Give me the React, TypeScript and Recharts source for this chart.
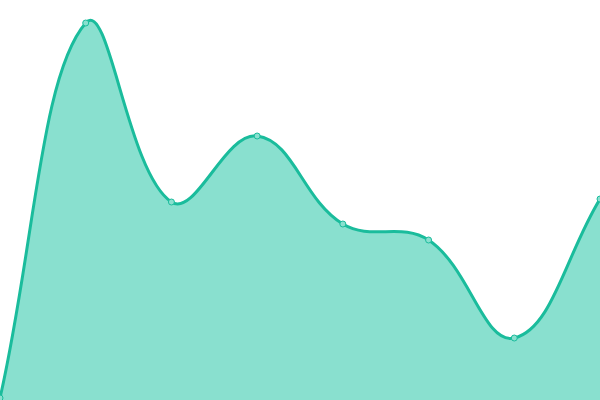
import React from 'react';
import { AreaChart, Area, XAxis, YAxis } from 'recharts';

const LABELS = ['Jan', 'Feb', 'Mar', 'Apr', 'May', 'Jun', 'Jul', 'Aug'];
const VALUES = [2, 377, 198, 264, 176, 160, 62, 201];

const LINE = '#1abc9c';
const FILL = '#89e0cf';

const data = LABELS.map((label, i) => ({ label, value: VALUES[i] }));

// spline like chart.js (tension 0.4), as a d3-style curve factory
const splineCurve = (tension: number) => (ctx: any) => {
  let pts: [number, number][] = [];
  let line = NaN;
  const draw = () => {
    const n = pts.length;
    if (!n) return;
    const cps = pts.map((cur, i) => {
      const prev = pts[i - 1] ?? cur;
      const next = pts[i + 1] ?? cur;
      const d01 = Math.hypot(cur[0] - prev[0], cur[1] - prev[1]);
      const d12 = Math.hypot(next[0] - cur[0], next[1] - cur[1]);
      let s01 = d01 / (d01 + d12);
      let s12 = d12 / (d01 + d12);
      if (isNaN(s01)) s01 = 0;
      if (isNaN(s12)) s12 = 0;
      const fa = tension * s01;
      const fb = tension * s12;
      return {
        a: [cur[0] - fa * (next[0] - prev[0]), cur[1] - fa * (next[1] - prev[1])],
        b: [cur[0] + fb * (next[0] - prev[0]), cur[1] + fb * (next[1] - prev[1])],
      };
    });
    if (line === 1) ctx.lineTo(pts[0][0], pts[0][1]);
    else ctx.moveTo(pts[0][0], pts[0][1]);
    for (let i = 1; i < n; i++) {
      const c1 = cps[i - 1].b;
      const c2 = cps[i].a;
      ctx.bezierCurveTo(c1[0], c1[1], c2[0], c2[1], pts[i][0], pts[i][1]);
    }
  };
  return {
    areaStart() { line = 0; },
    areaEnd() { line = NaN; },
    lineStart() { pts = []; },
    lineEnd() {
      draw();
      if (line === 1) ctx.closePath();
      line = 1 - line;
    },
    point(x: number, y: number) { pts.push([+x, +y]); },
  };
};

const curve = splineCurve(0.4);

export default function App() {
  return (
    <div style={{ position: 'fixed', left: 0, top: 0, width: 600, height: 400, background: '#fff' }}>
      <AreaChart width={600} height={400} data={data} margin={{ top: 0, right: 0, bottom: 0, left: 0 }}>
        <XAxis dataKey="label" hide padding={{ left: 0, right: 0 }} />
        <YAxis hide domain={[0, 400]} />
        <Area
          dataKey="value"
          type={curve as any}
          stroke={LINE}
          strokeWidth={3}
          fill={FILL}
          fillOpacity={1}
          dot={{ r: 3, fill: FILL, stroke: LINE, strokeWidth: 1, fillOpacity: 1 }}
          activeDot={false}
          isAnimationActive={false}
        />
      </AreaChart>
    </div>
  );
}
